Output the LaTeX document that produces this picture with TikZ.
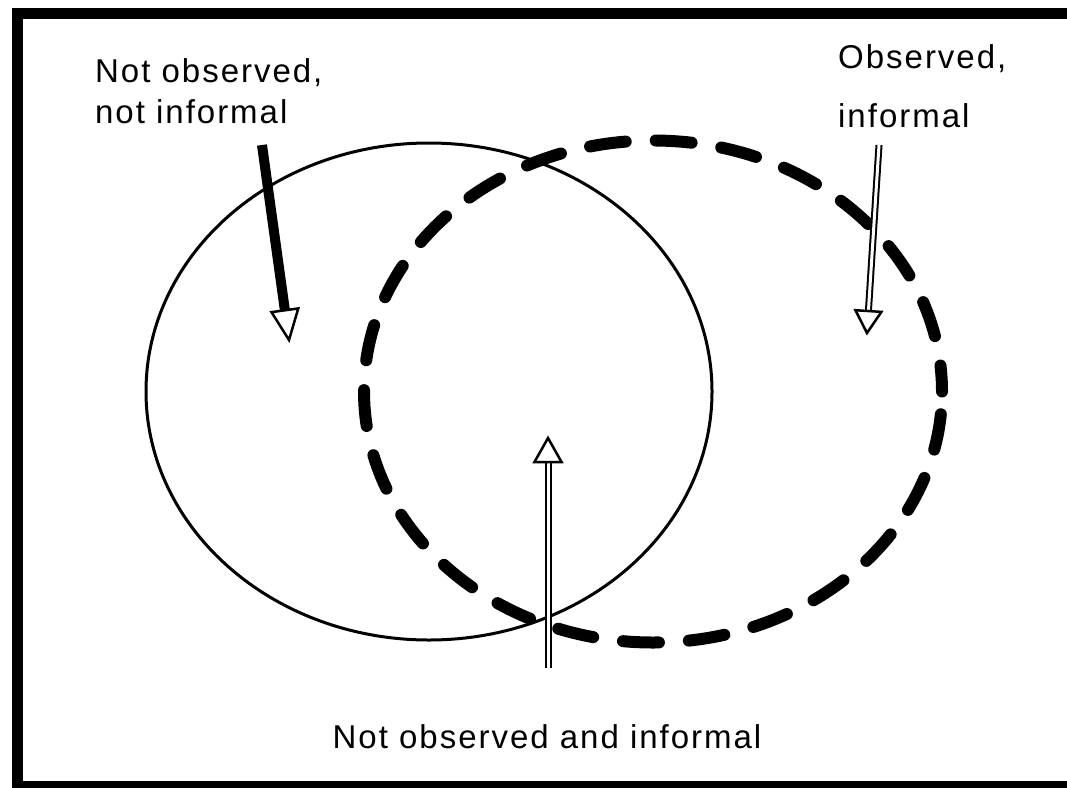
\documentclass[tikz,border=0pt]{standalone}
\usepackage{fontspec}
\setmainfont{Liberation Sans}[LetterSpace=6]
\usetikzlibrary{calc}
\begin{document}
\begin{tikzpicture}[x=1pt,y=-1pt,
  lbl/.style={inner sep=0pt, font=\fontsize{33}{40}\selectfont},
  frame/.style={line width=11pt},
  solidset/.style={line width=3pt},
  dashset/.style={line width=12pt, line cap=round, dash pattern=on 36pt off 30pt, dash phase=10pt},
  thickshaft/.style={line width=10pt},
  dblshaft/.style={line width=2pt, double=white, double distance=3pt},
  headtri/.style={line width=2.5pt, fill=white, line join=miter}
]
\useasboundingbox (0,0) rectangle (1067,787);
\draw[frame] (17,13) rectangle (1073,786);

% sets
\draw[solidset] (429,391.5) ellipse [x radius=283pt, y radius=248.5pt];
\draw[dashset] (653,391.5) ellipse [x radius=289pt, y radius=251pt];

% labels
\node[lbl, anchor=base west] (lt1) at (95,82) {Not observed,};
\node[lbl, anchor=base west] (lt2) at (95,123) {not informal};
\node[lbl, anchor=base west] (rt1) at (838,68) {Observed,};
\node[lbl, anchor=base west] (rt2) at (838,127) {informal};
\node[lbl, anchor=base] (bt) at (547,748) {Not observed and informal};

% arrow coordinates
\coordinate (la) at (262,145);
\coordinate (lt) at (289,340);
\coordinate (ra) at (879,145);
\coordinate (rtip) at (867,333);
\coordinate (ma) at (548,668);
\coordinate (mt) at (548,438);

\coordinate (lb) at ($(lt)!30pt!(la)$);
\coordinate (rb) at ($(rtip)!22pt!(ra)$);
\coordinate (mb) at ($(mt)!24pt!(ma)$);

% left arrow
\draw[thickshaft] (la) -- (lb);
\draw[headtri] (lt) -- ($(lb)!13.5pt!90:(lt)$) -- ($(lb)!13.5pt!-90:(lt)$) -- cycle;
% right arrow
\draw[dblshaft] (ra) -- (rb);
\draw[headtri] (rtip) -- ($(rb)!13pt!90:(rtip)$) -- ($(rb)!13pt!-90:(rtip)$) -- cycle;
% middle arrow
\draw[dblshaft] (ma) -- (mb);
\draw[headtri] (mt) -- ($(mb)!13.5pt!90:(mt)$) -- ($(mb)!13.5pt!-90:(mt)$) -- cycle;
\end{tikzpicture}
\end{document}
